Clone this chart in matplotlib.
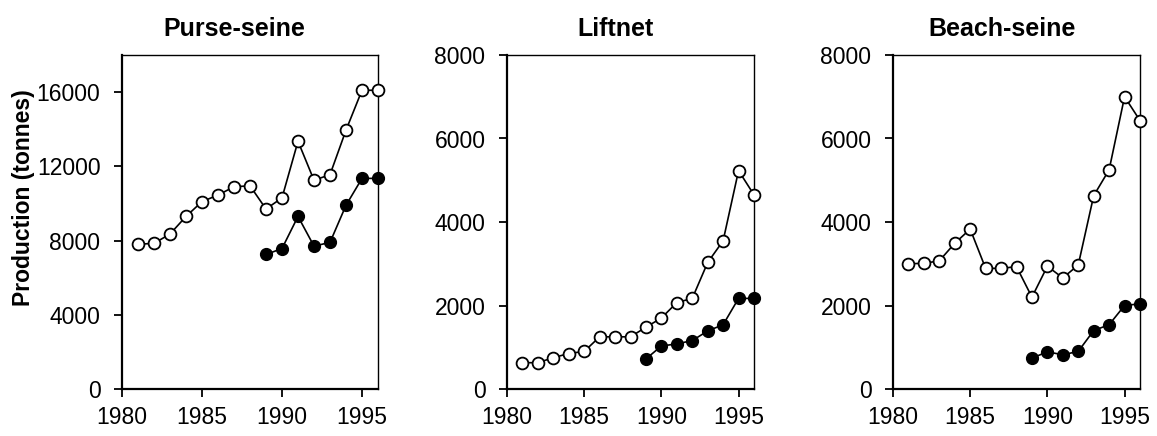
import matplotlib.pyplot as plt

plt.rcParams['font.family'] = ['Liberation Sans', 'DejaVu Sans']

years_all = list(range(1981, 1997))
years_late = list(range(1989, 1997))

titles = ["Purse-seine", "Liftnet", "Beach-seine"]

# open circles (1981-1996)
purse_open = [7800, 7850, 8350, 9300, 10100, 10450, 10900, 10950,
              9700, 10300, 13350, 11250, 11550, 13950, 16100, 16100]
lift_open = [630, 630, 750, 850, 900, 1250, 1250, 1250,
             1480, 1700, 2070, 2170, 3030, 3550, 5230, 4650]
beach_open = [3000, 3010, 3070, 3490, 3830, 2890, 2890, 2930,
              2200, 2940, 2660, 2970, 4630, 5250, 7000, 6430]

# filled circles (1989-1996)
purse_filled = [7250, 7570, 9300, 7700, 7900, 9900, 11350, 11350]
lift_filled = [720, 1030, 1080, 1160, 1390, 1540, 2170, 2170]
beach_filled = [740, 890, 820, 900, 1400, 1540, 2000, 2040]

open_series = [purse_open, lift_open, beach_open]
filled_series = [purse_filled, lift_filled, beach_filled]
ylims = [18000, 8000, 8000]
yticks = [range(0, 16001, 4000), range(0, 8001, 2000), range(0, 8001, 2000)]

W, H = 1157, 436
fig = plt.figure(figsize=(W / 100, H / 100), dpi=100)

# axes boxes in pixels: left, right
boxes = [(122, 378), (507, 754), (893, 1140)]
top, bottom = 55, 389

for i, (l, r) in enumerate(boxes):
    ax = fig.add_axes([l / W, (H - bottom) / H, (r - l) / W, (bottom - top) / H])
    ax.plot(years_all, open_series[i], '-o', color='black', lw=1.2,
            ms=8.5, mfc='white', mec='black', mew=1.3, clip_on=False, zorder=3)
    ax.plot(years_late, filled_series[i], '-o', color='black', lw=1.2,
            ms=8.5, mfc='black', mec='black', clip_on=False, zorder=3)
    ax.set_xlim(1980, 1996)
    ax.set_ylim(0, ylims[i])
    ax.set_xticks([1980, 1985, 1990, 1995])
    ax.set_yticks(list(yticks[i]))
    ax.tick_params(direction='out', length=6, width=1.3, labelsize=16.5)
    ax.tick_params(axis='y', pad=9.5)
    ax.tick_params(axis='x', pad=6)
    ax.spines['left'].set_linewidth(1.6)
    ax.spines['bottom'].set_linewidth(1.6)
    ax.spines['top'].set_linewidth(1.0)
    ax.spines['right'].set_linewidth(1.0)
    ax.set_title(titles[i], fontsize=18, fontweight='bold', pad=14, x=0.44)

fig.text(24 / W, 1 - 198 / H, "Production (tonnes)", rotation=90,
         ha='center', va='center', fontsize=16.5, fontweight='bold')

fig.savefig("out.png", dpi=100)
